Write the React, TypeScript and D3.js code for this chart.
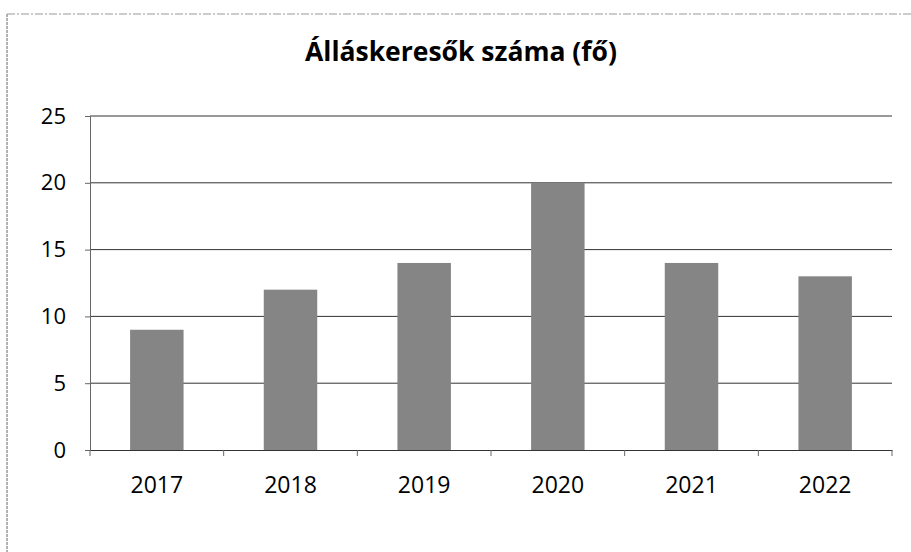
import React, { useEffect, useRef } from 'react';
import * as d3 from 'd3';

const years = ['2017', '2018', '2019', '2020', '2021', '2022'];
const jobSeekers = [9, 12, 14, 20, 14, 13];
const yTicks = [0, 5, 10, 15, 20, 25];
const title = 'Álláskeresők száma (fő)';

const App = () => {
  const ref = useRef<SVGSVGElement>(null);

  useEffect(() => {
    const svg = d3.select(ref.current);
    svg.selectAll('*').remove();

    const left = 90, right = 892, top = 116, bottom = 450;
    const font = 'Open Sans, Lato, sans-serif';

    // frame of the scanned chart area
    svg.append('line').attr('x1', 7).attr('x2', 7).attr('y1', 14).attr('y2', 552)
      .attr('stroke', '#666').attr('stroke-dasharray', '3,1');
    svg.append('line').attr('x1', 7).attr('x2', 911).attr('y1', 14).attr('y2', 14)
      .attr('stroke', '#999').attr('stroke-dasharray', '8,2,2,2');

    svg.append('text').attr('x', 461).attr('y', 61).attr('text-anchor', 'middle')
      .attr('font-family', font).attr('font-weight', 'bold').attr('font-size', 26.5)
      .attr('fill', '#000').text(title);

    const x = d3.scaleBand().domain(years).range([left, right]).paddingInner(0.6).paddingOuter(0.3);
    const xb = d3.scaleBand().domain(years).range([left, right]).padding(0);
    const y = d3.scaleLinear().domain([0, 25]).range([bottom, top]);

    // grid
    svg.append('g').selectAll('line').data(yTicks.slice(1)).enter().append('line')
      .attr('x1', left).attr('x2', right)
      .attr('y1', d => y(d)).attr('y2', d => y(d))
      .attr('stroke', '#333').attr('stroke-width', 1);

    // bars
    svg.append('g').selectAll('rect').data(jobSeekers).enter().append('rect')
      .attr('x', (d, i) => x(years[i])!)
      .attr('y', d => y(d))
      .attr('width', x.bandwidth())
      .attr('height', d => bottom - y(d))
      .attr('fill', '#858585');

    // y axis
    const gy = svg.append('g').attr('transform', `translate(${left},0)`)
      .call(d3.axisLeft(y).tickValues(yTicks).tickSize(5).tickPadding(19));
    gy.select('.domain').attr('stroke', '#666');
    gy.selectAll('.tick line').attr('stroke', '#666');
    gy.selectAll('text').attr('font-family', font).attr('font-size', 22).attr('fill', '#000');

    // x axis
    const gx = svg.append('g').attr('transform', `translate(0,${bottom})`)
      .call(d3.axisBottom(xb).tickSize(0).tickPadding(27));
    gx.select('.domain').attr('stroke', '#333');
    gx.selectAll('text').attr('font-family', font).attr('font-size', 23).attr('fill', '#000');
    const bounds = years.map(d => xb(d)!).concat([right]);
    gx.append('g').selectAll('line').data(bounds).enter().append('line')
      .attr('x1', d => d).attr('x2', d => d).attr('y1', 0).attr('y2', 6)
      .attr('stroke', '#666');
  }, []);

  return (
    <svg ref={ref} width={911} height={552}
      style={{ position: 'absolute', left: 0, top: 0, background: '#fff' }} />
  );
};

export default App;
